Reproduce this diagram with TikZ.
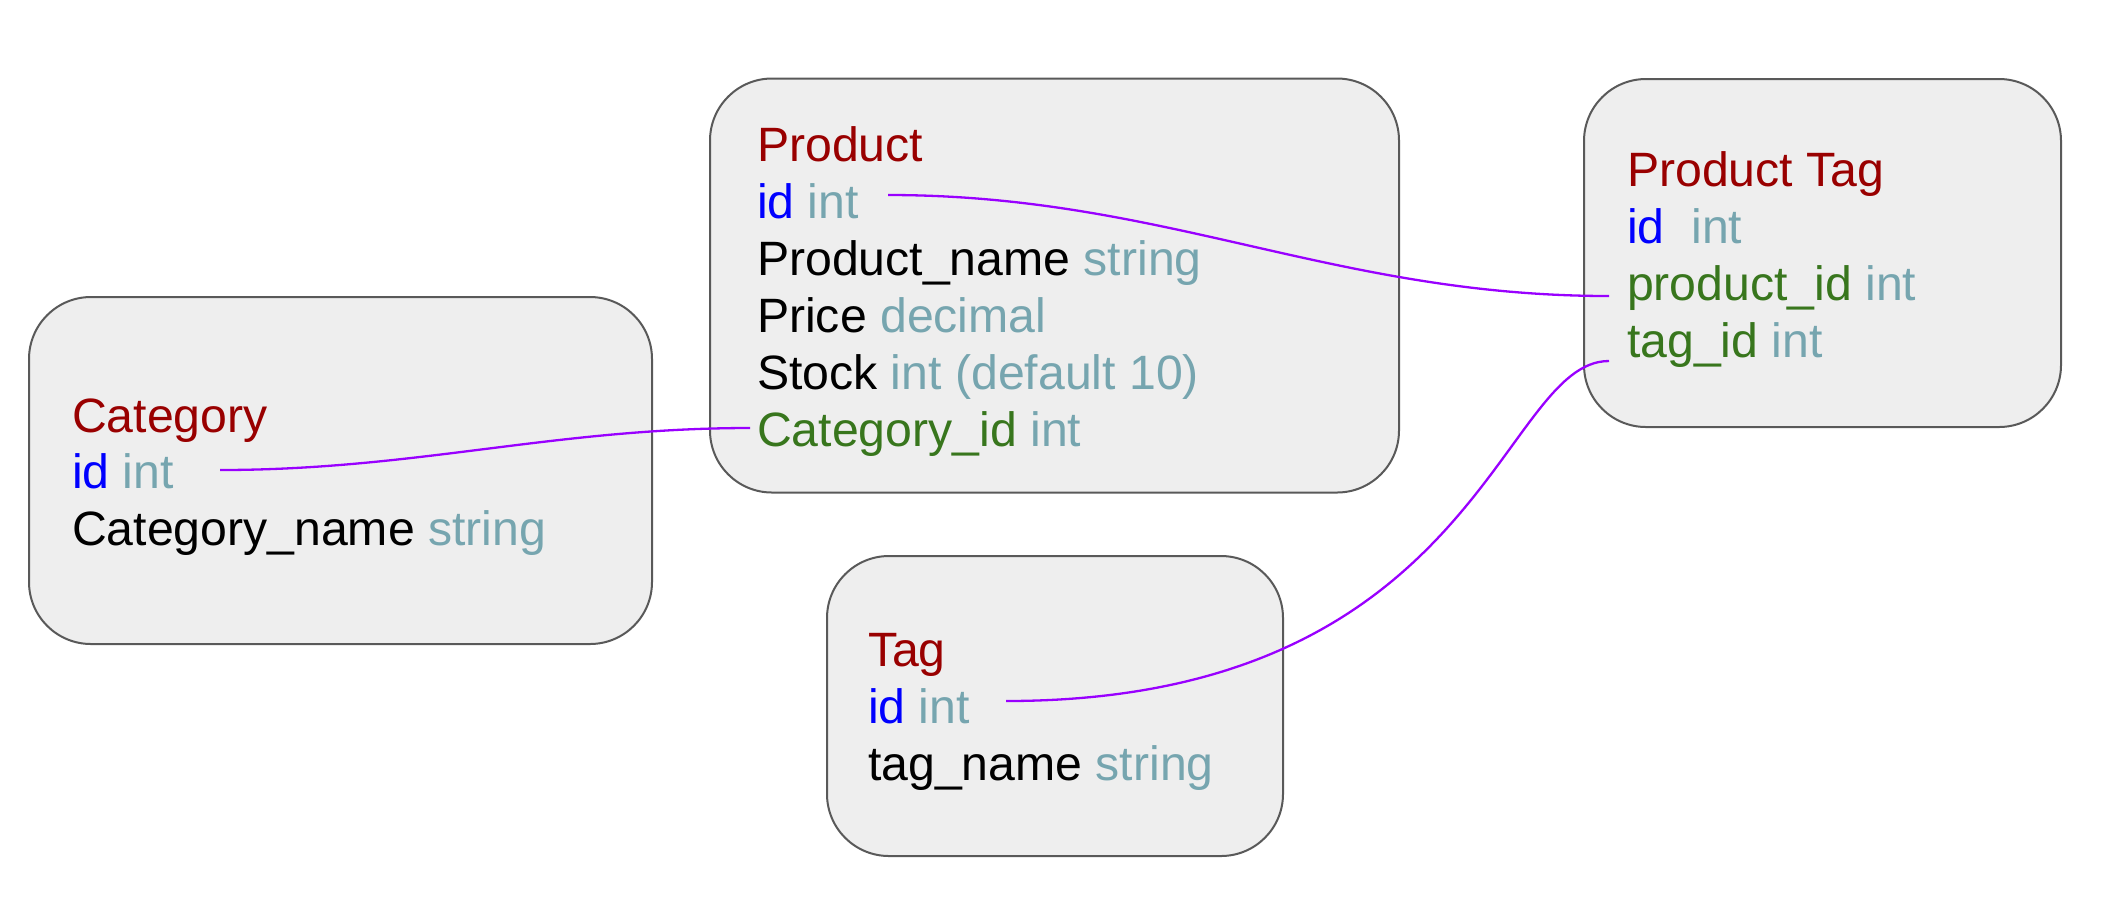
\documentclass[tikz,border=0pt]{standalone}
\usepackage{fontspec}
\setmainfont{Liberation Sans}
\definecolor{titlec}{HTML}{990000}
\definecolor{idc}{HTML}{0000FF}
\definecolor{typc}{HTML}{76A5AF}
\definecolor{fkc}{HTML}{38761D}
\definecolor{connc}{HTML}{9900FF}
\definecolor{boxfill}{HTML}{EEEEEE}
\definecolor{boxline}{HTML}{595959}
\begin{document}
\begin{tikzpicture}[x=0.5pt,y=-0.5pt,
  tbl/.style={draw=boxline, fill=boxfill, line width=1pt, rounded corners=31pt, inner sep=0pt, outer sep=0pt},
  txt/.style={anchor=base west, inner sep=0pt, outer sep=0pt, font=\fontsize{24.1}{29}\selectfont},
  conn/.style={draw=connc, line width=1.15pt}]
\useasboundingbox (0,0) rectangle (2126,902);
% boxes
\node[tbl, minimum width=311.5pt, minimum height=173.5pt] (cat) at (340.5,470.5) {};
\node[tbl, minimum width=344.5pt, minimum height=207pt] (prod) at (1054.5,285.5) {};
\node[tbl, minimum width=238.5pt, minimum height=174pt] (ptag) at (1822.5,253) {};
\node[tbl, minimum width=228pt, minimum height=150pt] (tag) at (1055,706) {};
% Category
\node[txt, text=titlec] (catT) at (72,432) {Category};
\node[txt] (catId) at (72,488) {\textcolor{idc}{id} \textcolor{typc}{int}};
\node[txt] (catName) at (72,545) {Category\_name \textcolor{typc}{string}};
% Product
\node[txt, text=titlec] (prodT) at (757,161) {Product};
\node[txt] (prodId) at (757,218) {\textcolor{idc}{id} \textcolor{typc}{int}};
\node[txt] (prodName) at (757,275) {Product\_name \textcolor{typc}{string}};
\node[txt] (prodPrice) at (757,332) {Price \textcolor{typc}{decimal}};
\node[txt] (prodStock) at (757,389) {Stock \textcolor{typc}{int (default 10)}};
\node[txt] (prodCat) at (757,446) {\textcolor{fkc}{Category\_id} \textcolor{typc}{int}};
% Product Tag
\node[txt, text=titlec] (ptagT) at (1627,186) {Product Tag};
\node[txt] (ptagId) at (1627,243) {\textcolor{idc}{id}\ \ \textcolor{typc}{int}};
\node[txt] (ptagProd) at (1627,300) {\textcolor{fkc}{product\_id} \textcolor{typc}{int}};
\node[txt] (ptagTag) at (1627,357) {\textcolor{fkc}{tag\_id} \textcolor{typc}{int}};
% Tag
\node[txt, text=titlec] (tagT) at (868,666) {Tag};
\node[txt] (tagId) at (868,723) {\textcolor{idc}{id} \textcolor{typc}{int}};
\node[txt] (tagName) at (868,780) {tag\_name \textcolor{typc}{string}};
% connector ends
\coordinate (c1s) at (220,470);
\coordinate (c1e) at (750,428);
\coordinate (c2s) at (888,195);
\coordinate (c2e) at (1609,296);
\coordinate (c3s) at (1006,701);
\coordinate (c3e) at (1609,361);
\draw[conn] (c1s) .. controls (416,470) and (554,428) .. (c1e);
\draw[conn] (c2s) .. controls (1165,195) and (1332,296) .. (c2e);
\draw[conn] (c3s) .. controls (1480,701) and (1500,361) .. (c3e);
\end{tikzpicture}
\end{document}
